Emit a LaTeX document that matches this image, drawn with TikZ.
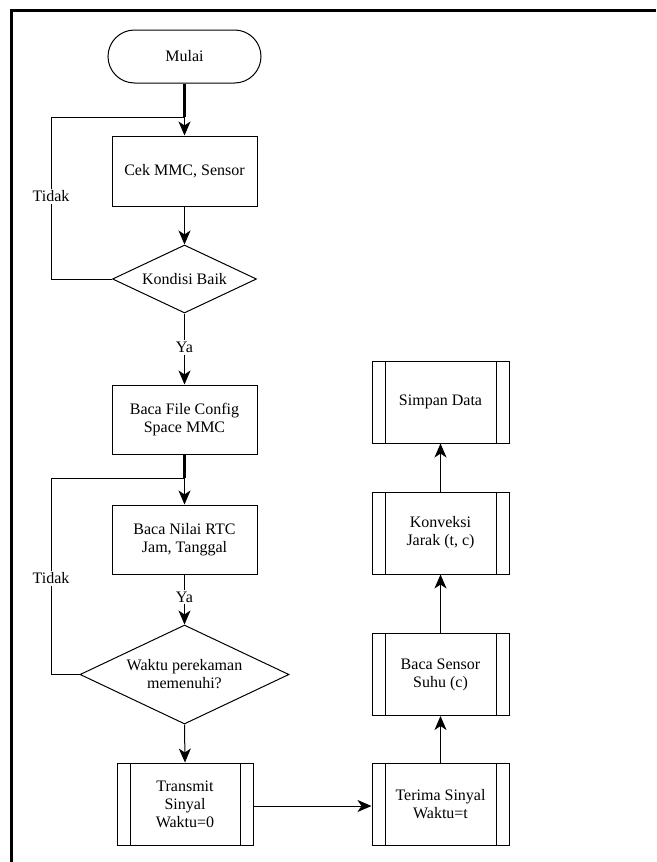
\documentclass[tikz,border=0pt]{standalone}
\usepackage{fontspec}
\setmainfont{Liberation Serif}
\usetikzlibrary{shapes.geometric,arrows.meta}
\begin{document}
\begin{tikzpicture}[x=1pt,y=-1pt,
  every node/.style={font=\rmfamily\fontsize{16}{18}\selectfont, align=center},
  box/.style={draw, line width=1pt, rectangle, minimum width=145pt, minimum height=70pt, inner sep=2pt},
  pbox/.style={draw, line width=1pt, rectangle, minimum width=137pt, minimum height=82pt, inner sep=2pt,
    path picture={\draw[line width=1pt] ([xshift=13pt]path picture bounding box.north west) -- ([xshift=13pt]path picture bounding box.south west);
                  \draw[line width=1pt] ([xshift=-13pt]path picture bounding box.north east) -- ([xshift=-13pt]path picture bounding box.south east);}},
  term/.style={draw, line width=1pt, rectangle, rounded corners=26.5pt, minimum width=153pt, minimum height=53pt},
  dec/.style={draw, line width=1pt, diamond, aspect=2, inner sep=0pt},
  arr/.style={line width=1pt, -{Stealth[length=14pt,width=12pt,inset=4pt]}},
  ln/.style={line width=1pt},
  lab/.style={fill=white, inner sep=2pt}
]
\useasboundingbox (0,0) rectangle (656,862);
% frame
\draw[line width=3pt] (11,862) -- (11,10) -- (656,10);

\node[term] (mulai) at (184.5,56.5) {Mulai};
\node[box] (cek) at (184.5,171) {Cek MMC, Sensor};
\node[dec, minimum width=144pt, minimum height=68pt] (kb) at (184.5,279) {Kondisi Baik};
\node[box, minimum height=69pt] (bf) at (184.5,419.5) {Baca File Config\\ Space MMC};
\node[box, minimum height=69pt] (bn) at (184.5,539.5) {Baca Nilai RTC\\ Jam, Tanggal};
\node[dec, minimum width=209pt, minimum height=99pt] (wk) at (184.5,674.5) {Waktu perekaman\\ memenuhi?};
\node[pbox, minimum width=136pt] (tr) at (185,804) {Transmit\\ Sinyal\\ Waktu=0};
\node[pbox] (te) at (440.5,804.5) {Terima Sinyal\\ Waktu=t};
\node[pbox] (bs) at (440.5,674.5) {Baca Sensor\\ Suhu (c)};
\node[pbox] (kv) at (440.5,533) {Konveksi\\ Jarak (t, c)};
\node[pbox] (sd) at (440.5,402) {Simpan Data};

\coordinate (j1) at (184.5,117);
\coordinate (l1) at (51,117);
\coordinate (j2) at (184.5,478);
\coordinate (l2) at (51,478);

% main flow
\draw[line width=2.2pt] (mulai.south) -- (j1);
\draw[arr] (j1) -- (cek.north);
\draw[arr] (cek.south) -- (kb.north);
\draw[arr] (kb.south) -- node[lab, pos=0.48] {Ya} (bf.north);
\draw[line width=2.2pt] (bf.south) -- (j2);
\draw[arr] (j2) -- (bn.north);
\draw[arr] (bn.south) -- node[lab, pos=0.45] {Ya} (wk.north);
\draw[arr] (wk.south) -- (tr.north);
\draw[arr] (tr.east |- 0,806) -- (te.west |- 0,806);
\draw[arr] (te.north) -- (bs.south);
\draw[arr] (bs.north) -- (kv.south);
\draw[arr] (kv.north) -- (sd.south);

% loops
\draw[ln] (kb.west) -- (kb.west -| l1) -- node[lab, pos=0.51] {Tidak} (l1) -- (j1);
\draw[ln] (wk.west) -- (wk.west -| l2) -- node[lab, pos=0.49] {Tidak} (l2) -- (j2);
\end{tikzpicture}
\end{document}
